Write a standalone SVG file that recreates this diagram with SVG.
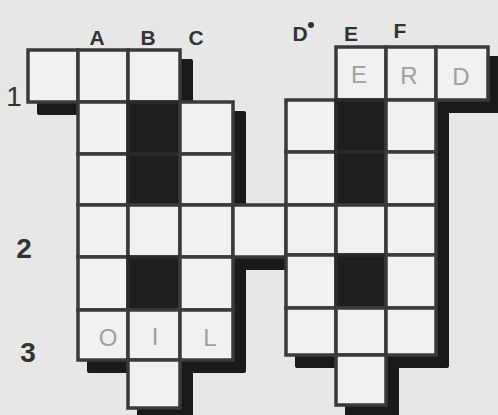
<svg xmlns="http://www.w3.org/2000/svg" width="498" height="415" viewBox="0 0 498 415">
<style>
.c{fill:#f1f1f1;stroke:#3a3a3a;stroke-width:3.5}
.k{fill:#1e1e1e;stroke:#2a2a2a;stroke-width:3.5}
.sh{fill:#1a1a1a;stroke:#1a1a1a;stroke-width:4;stroke-linejoin:round}
.lab{font-family:"Liberation Sans",Arial,sans-serif;fill:#333;text-anchor:middle}
.col{font-size:21px;font-weight:bold}
.row{font-size:28px;font-weight:bold}
.fill{font-family:"Liberation Sans",Arial,sans-serif;font-size:24px;fill:#a0a0a0;text-anchor:middle}
</style>
<rect width="498" height="415" fill="#e7e7e7"/>
<g id="shadows">
<path class="sh" d="M39,61H191V113H244V216H297V268H244V371H191V419H139V371H89V113H39Z"/>
<path class="sh" d="M347,58H498V111H447V366H397V416H347V366H297V111H347Z"/>
</g>
<g id="left-block">
<rect class="c" x="28" y="50" width="50" height="52"/>
<rect class="c" x="78" y="50" width="50" height="52"/>
<rect class="c" x="128" y="50" width="52" height="52"/>
<rect class="c" x="78" y="102" width="50" height="52"/>
<rect class="k" x="128" y="102" width="52" height="52"/>
<rect class="c" x="180" y="102" width="53" height="52"/>
<rect class="c" x="78" y="154" width="50" height="51"/>
<rect class="k" x="128" y="154" width="52" height="51"/>
<rect class="c" x="180" y="154" width="53" height="51"/>
<rect class="c" x="78" y="205" width="50" height="52"/>
<rect class="c" x="128" y="205" width="52" height="52"/>
<rect class="c" x="180" y="205" width="53" height="52"/>
<rect class="c" x="78" y="257" width="50" height="53"/>
<rect class="k" x="128" y="257" width="52" height="53"/>
<rect class="c" x="180" y="257" width="53" height="53"/>
<rect class="c" x="78" y="310" width="50" height="50"/>
<rect class="c" x="128" y="310" width="52" height="50"/>
<rect class="c" x="180" y="310" width="53" height="50"/>
<rect class="c" x="128" y="360" width="52" height="48"/>
</g>
<g id="bridge">
<rect class="c" x="233" y="205" width="53" height="52"/>
</g>
<g id="right-block">
<rect class="c" x="336" y="47" width="50" height="53"/>
<rect class="c" x="386" y="47" width="50" height="53"/>
<rect class="c" x="436" y="47" width="52" height="53"/>
<rect class="c" x="286" y="100" width="50" height="52"/>
<rect class="k" x="336" y="100" width="50" height="52"/>
<rect class="c" x="386" y="100" width="50" height="52"/>
<rect class="c" x="286" y="152" width="50" height="53"/>
<rect class="k" x="336" y="152" width="50" height="53"/>
<rect class="c" x="386" y="152" width="50" height="53"/>
<rect class="c" x="286" y="205" width="50" height="50"/>
<rect class="c" x="336" y="205" width="50" height="50"/>
<rect class="c" x="386" y="205" width="50" height="50"/>
<rect class="c" x="286" y="255" width="50" height="53"/>
<rect class="k" x="336" y="255" width="50" height="53"/>
<rect class="c" x="386" y="255" width="50" height="53"/>
<rect class="c" x="286" y="308" width="50" height="47"/>
<rect class="c" x="336" y="308" width="50" height="47"/>
<rect class="c" x="386" y="308" width="50" height="47"/>
<rect class="c" x="336" y="355" width="50" height="50"/>
</g>
<g id="labels">
<text class="lab col" x="97" y="45">A</text>
<text class="lab col" x="148" y="45">B</text>
<text class="lab col" x="196" y="45">C</text>
<text class="lab col" x="300" y="41">D</text>
<circle cx="311" cy="25" r="3" fill="#333"/>
<text class="lab col" x="351" y="41">E</text>
<text class="lab col" x="400" y="38">F</text>
<text class="lab" x="14" y="106" font-size="28">1</text>
<text class="lab row" x="24" y="258">2</text>
<text class="lab row" x="28" y="362">3</text>
</g>
<g id="letters">
<text class="fill" x="359" y="83">E</text>
<text class="fill" x="409" y="84">R</text>
<text class="fill" x="461" y="85">D</text>
<text class="fill" x="108" y="346">O</text>
<text class="fill" x="155" y="345">I</text>
<text class="fill" x="210" y="346">L</text>
</g>
</svg>
